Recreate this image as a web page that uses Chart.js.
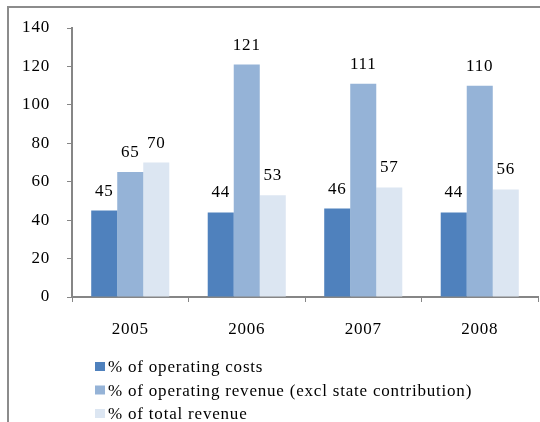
<!DOCTYPE html>
<html>
<head>
<meta charset="utf-8">
<script src="https://cdn.jsdelivr.net/npm/chart.js@4/dist/chart.umd.min.js"></script>
<style>
    html, body { margin: 0; padding: 0; background: #ffffff; }
    #wrap { width: 540px; height: 422px; }
</style>
</head>
<body>
<div id="wrap"><canvas id="costChart" width="540" height="422"></canvas></div>
<script>
const years = ["2005", "2006", "2007", "2008"];
const operatingCosts = [45, 44, 46, 44];
const operatingRevenue = [65, 121, 111, 110];
const totalRevenue = [70, 53, 57, 56];
const seriesNames = [
    "% of operating costs",
    "% of operating revenue (excl state contribution)",
    "% of total revenue"
];
const yTicks = [0, 20, 40, 60, 80, 100, 120, 140];

const fontFamily = "'Liberation Serif', 'Times New Roman', serif";
const fontSize = 17;
const axisColor = "#868686";

// frame around the chart (top and left edges show)
const framePlugin = {
    id: "frame",
    beforeDraw: function(chart) {
        const ctx = chart.ctx;
        ctx.save();
        ctx.fillStyle = "#ffffff";
        ctx.fillRect(0, 0, chart.width, chart.height);
        ctx.strokeStyle = "#8c8c8c";
        ctx.lineWidth = 2;
        ctx.beginPath();
        ctx.moveTo(8, chart.height);
        ctx.lineTo(8, 7);
        ctx.lineTo(chart.width, 7);
        ctx.stroke();
        ctx.restore();
        // text in this chart is set a little wide; the canvas state is
        // reset on resize, so set it here for every draw
        ctx.letterSpacing = "0.8px";
    }
};

// value labels over each bar
const valueLabels = {
    id: "valueLabels",
    afterDatasetsDraw: function(chart) {
        const ctx = chart.ctx;
        ctx.save();
        ctx.font = fontSize + "px " + fontFamily;
        ctx.fillStyle = "#000000";
        ctx.textAlign = "center";
        ctx.textBaseline = "alphabetic";
        chart.data.datasets.forEach(function(ds, i) {
            chart.getDatasetMeta(i).data.forEach(function(bar, j) {
                ctx.fillText(String(ds.data[j]), bar.x, bar.y - 15);
            });
        });
        ctx.restore();
    }
};

// legend drawn as a vertical list under the axis
const listLegend = {
    id: "listLegend",
    afterDraw: function(chart) {
        const ctx = chart.ctx;
        ctx.save();
        ctx.font = fontSize + "px " + fontFamily;
        ctx.textAlign = "left";
        ctx.textBaseline = "alphabetic";
        chart.data.datasets.forEach(function(ds, i) {
            const base = 372 + i * 23.5;
            ctx.fillStyle = ds.backgroundColor;
            ctx.fillRect(95, base - 10, 10, 9);
            ctx.fillStyle = "#000000";
            ctx.fillText(ds.label, 108, base);
        });
        ctx.restore();
    }
};

const ctx = document.getElementById("costChart").getContext("2d");

new Chart(ctx, {
    type: "bar",
    data: {
        labels: years,
        datasets: [
            { label: seriesNames[0], data: operatingCosts, backgroundColor: "#4F81BD" },
            { label: seriesNames[1], data: operatingRevenue, backgroundColor: "#95B3D7" },
            { label: seriesNames[2], data: totalRevenue, backgroundColor: "#DCE6F2" }
        ]
    },
    options: {
        responsive: false,
        animation: false,
        devicePixelRatio: 1,
        datasets: {
            bar: { categoryPercentage: 0.67, barPercentage: 1.0, borderWidth: 0 }
        },
        layout: { padding: { left: 14, top: 28, right: 2, bottom: 75 } },
        plugins: {
            legend: { display: false },
            tooltip: { enabled: false }
        },
        scales: {
            x: {
                grid: {
                    display: true,
                    drawOnChartArea: false,
                    offset: true,
                    color: axisColor,
                    tickLength: 5,
                    tickColor: axisColor
                },
                border: { color: axisColor, width: 2 },
                ticks: {
                    color: "#000000",
                    font: { family: fontFamily, size: fontSize },
                    padding: 17
                },
                afterFit: function(scale) { scale.height = 50; }
            },
            y: {
                min: 0,
                max: 140,
                afterBuildTicks: function(scale) {
                    scale.ticks = yTicks.map(function(v) { return { value: v }; });
                },
                grid: {
                    drawOnChartArea: false,
                    color: axisColor,
                    tickLength: 5,
                    tickColor: axisColor
                },
                border: { color: axisColor, width: 2 },
                ticks: {
                    color: "#000000",
                    font: { family: fontFamily, size: fontSize },
                    padding: 17
                },
                afterFit: function(scale) { scale.width = 58; }
            }
        }
    },
    plugins: [framePlugin, valueLabels, listLegend]
});
</script>
</body>
</html>
